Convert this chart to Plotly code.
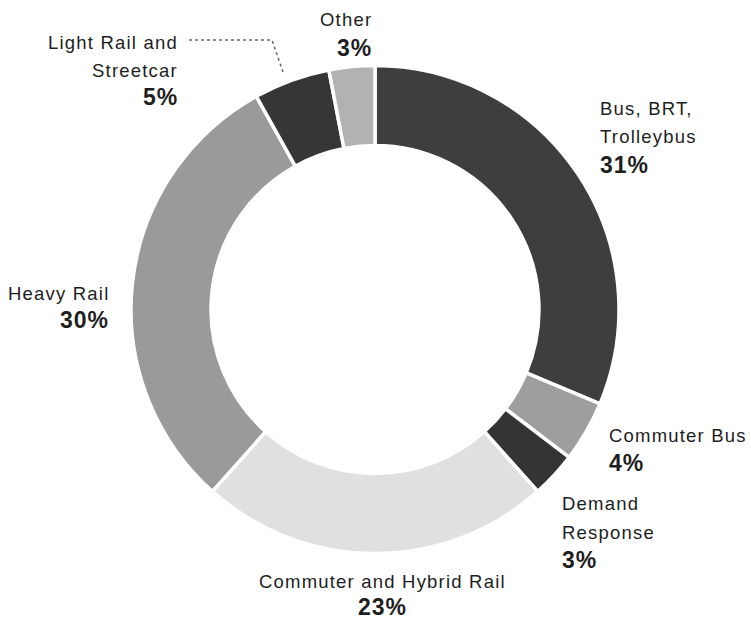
import plotly.graph_objects as go

# ---- data ----
categories = ["Bus, BRT, Trolleybus", "Commuter Bus", "Demand Response",
              "Commuter and Hybrid Rail", "Heavy Rail", "Light Rail and Streetcar", "Other"]
values = [31, 4, 3, 23, 30, 5, 3]
label_lines = [["Bus, BRT,", "Trolleybus"], ["Commuter Bus"], ["Demand", "Response"],
               ["Commuter and Hybrid Rail"], ["Heavy Rail"], ["Light Rail and", "Streetcar"], ["Other"]]
colors = ["#3e3e3e", "#9e9e9e", "#343434", "#e0e0e0", "#9a9a9a", "#363636", "#b2b2b2"]

# ---- layout (pixel positions of label blocks) ----
W, H = 751, 619
# (x, anchor, [y of each line..., y of percent])
label_pos = [
    (598, "left",   [108, 137, 165]),
    (607, "left",   [435, 463]),
    (560, "left",   [503, 532, 560]),
    (382, "center", [581, 607]),
    (111, "right",  [293, 320]),
    (180, "right",  [42, 70, 97]),
    (374, "right",  [20, 48]),
]
cx, cy, r = 375, 309.5, 244

def px(x):
    return x / W

def py(y):
    return 1 - y / H

fig = go.Figure()
fig.add_trace(go.Pie(
    labels=categories, values=values, sort=False, direction="clockwise", rotation=0,
    hole=0.672, textinfo="none", hoverinfo="label+percent",
    marker=dict(colors=colors, line=dict(color="white", width=3.5)),
    domain=dict(x=[px(cx - r), px(cx + r)], y=[py(cy + r), py(cy - r)]),
    showlegend=False,
))

font_name = dict(family="Liberation Sans, Arial, sans-serif", size=18.5, color="#1e1e1e")
font_pct = dict(family="Liberation Sans, Arial, sans-serif", size=23, color="#1e1e1e")
ann = []
for lines, v, (x, anc, ys) in zip(label_lines, values, label_pos):
    for line, y in zip(lines, ys[:-1]):
        ann.append(dict(x=px(x), y=py(y), xref="paper", yref="paper", xanchor=anc, yanchor="middle",
                        text='<span style="letter-spacing:1.2px">%s</span>' % line,
                        showarrow=False, font=font_name))
    ann.append(dict(x=px(x), y=py(ys[-1]), xref="paper", yref="paper", xanchor=anc, yanchor="middle",
                    text='<b><span style="letter-spacing:1px">%d%%</span></b>' % v,
                    showarrow=False, font=font_pct))

# dotted leader line for Light Rail and Streetcar
leader = "M %f,%f L %f,%f L %f,%f" % (px(189), py(40), px(272), py(40), px(283), py(72))

fig.update_layout(
    width=W, height=H, autosize=False,
    margin=dict(l=0, r=0, t=0, b=0),
    paper_bgcolor="white", plot_bgcolor="white",
    annotations=ann,
    shapes=[dict(type="path", path=leader, xref="paper", yref="paper",
                 line=dict(color="#666666", width=1.5, dash="dot"))],
)

fig.write_html("out.html", config={"displayModeBar": False},
               post_script="document.body.style.margin='0';document.body.style.overflow='hidden';")
